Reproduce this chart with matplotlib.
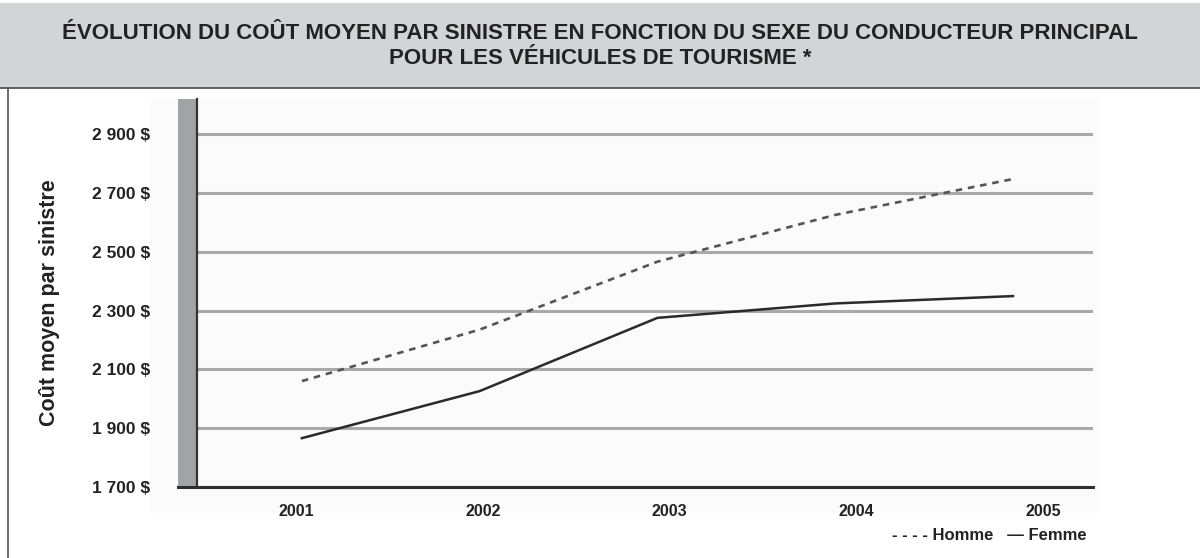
import matplotlib
matplotlib.use('Agg')
from matplotlib import pyplot as plt
from matplotlib.patches import Rectangle
from matplotlib.lines import Line2D

# données
annees = [2001, 2002, 2003, 2004, 2005]
homme = [2060, 2235, 2466, 2625, 2747]
femme = [1866, 2026, 2275, 2324, 2349]
graduations = [1700, 1900, 2100, 2300, 2500, 2700, 2900]
etiquettes_y = ['1 700 $', '1 900 $', '2 100 $', '2 300 $', '2 500 $', '2 700 $', '2 900 $']
titre = ('ÉVOLUTION DU COÛT MOYEN PAR SINISTRE EN FONCTION DU SEXE DU CONDUCTEUR PRINCIPAL\n'
         'POUR LES VÉHICULES DE TOURISME *')

plt.rcParams['font.family'] = ['Liberation Sans', 'DejaVu Sans']

W, H = 1200, 558
fig = plt.figure(figsize=(W / 100, H / 100), dpi=100)
fig.patch.set_facecolor('white')


def fx(px):
    return px / W


def fy(py):
    return 1 - py / H


# bandeau du titre
fig.patches.append(Rectangle((0, fy(88)), 1, fy(3) - fy(88), transform=fig.transFigure,
                             facecolor='#d3d4d6', edgecolor='none', zorder=-2))
fig.lines.append(Line2D([0, 1], [fy(88), fy(88)], transform=fig.transFigure,
                        color='#555555', lw=1.3, zorder=-1))
fig.lines.append(Line2D([fx(8), fx(8)], [fy(88), 0], transform=fig.transFigure,
                        color='#555555', lw=1.2, zorder=-1))
fig.text(0.5, fy(46), titre, ha='center', va='center', fontsize=16,
         fontweight='bold', color='#222222', linespacing=1.26)

# zone de tracé légèrement grisée
fig.patches.append(Rectangle((fx(150), fy(513)), fx(1100) - fx(150), fy(99) - fy(513),
                             transform=fig.transFigure, facecolor='#fbfbfb',
                             edgecolor='none', zorder=-2))

# mur gris à gauche
fig.patches.append(Rectangle((fx(178), fy(487)), fx(196) - fx(178), fy(99) - fy(487),
                             transform=fig.transFigure, facecolor='#a2a3a6',
                             edgecolor='none', zorder=-1))

ax = fig.add_axes([fx(197), fy(487), fx(1093) - fx(197), fy(99) - fy(487)])
ax.set_facecolor('none')
ax.set_zorder(2)

ax.plot(annees, homme, color='#555555', lw=1.9, ls=(0, (2.5, 2.2)), label='Homme')
ax.plot(annees, femme, color='#2a2a2a', lw=1.8, label='Femme')

ax.set_xlim(2000.41, 2005.45)
ax.set_ylim(1700, 3019)
ax.set_yticks(graduations)
ax.set_yticklabels(etiquettes_y)
ax.tick_params(axis='y', length=0, pad=34, labelsize=12.5, labelcolor='#222222')
for lab in ax.get_yticklabels():
    lab.set_fontweight('bold')

# dans l'original, les années ne tombent pas exactement sous les points des courbes
ecart_pts, ecart_lab, decal = 178.0, 187.0, 5.7


def vers_lab(x):
    return annees[0] + ((x - annees[0]) * ecart_pts + decal) / ecart_lab


def depuis_lab(x):
    return annees[0] + ((x - annees[0]) * ecart_lab - decal) / ecart_pts


ax.set_xticks([])
sec = ax.secondary_xaxis('bottom', functions=(vers_lab, depuis_lab))
sec.set_xticks(annees)
sec.set_xticklabels([str(a) for a in annees])
sec.tick_params(axis='x', length=0, pad=12, labelsize=11.5, labelcolor='#222222')
sec.spines['bottom'].set_visible(False)
for lab in sec.get_xticklabels():
    lab.set_fontweight('bold')

for g in graduations[1:]:
    ax.axhline(g, color='#a9a9a9', lw=2.2, zorder=0)

for s in ['top', 'right', 'bottom']:
    ax.spines[s].set_visible(False)
ax.spines['left'].set_color('#333333')
ax.spines['left'].set_linewidth(1.6)

ax.set_ylabel('Coût moyen par sinistre', fontsize=15.5, fontweight='bold',
              color='#222222')
ax.yaxis.set_label_coords((60 - 197) / 896, 0.5 - 10 / 388)

# ligne de base
fig.lines.append(Line2D([fx(178), fx(1093)], [fy(487), fy(487)], transform=fig.transFigure,
                        color='#2e2e2e', lw=2.2, zorder=3))

# légende en texte
fig.text(fx(1087), fy(535), '- - - - Homme   — Femme', ha='right', va='center',
         fontsize=12, fontweight='bold', color='#222222')

fig.savefig('out.png', dpi=100)
